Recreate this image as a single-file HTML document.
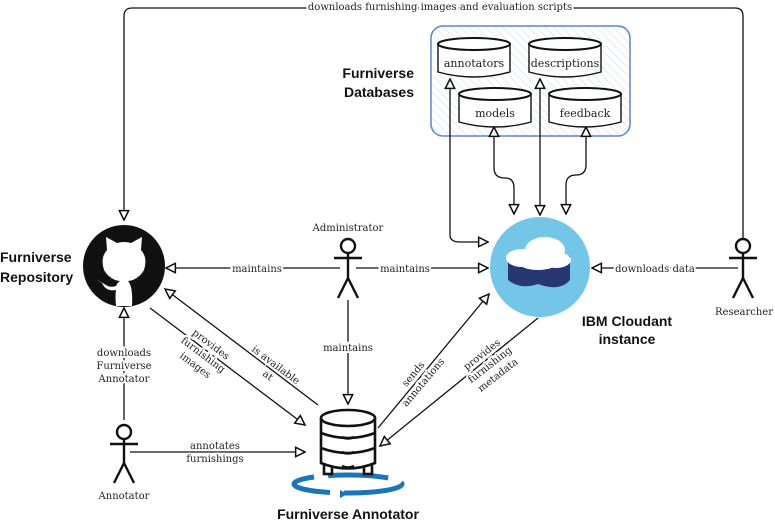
<!DOCTYPE html>
<html><head><meta charset="utf-8"><style>
html,body{margin:0;padding:0;background:#fff}
svg{display:block}
text{font-family:"DejaVu Serif","Liberation Serif",serif;font-size:10px;fill:#222}
.c{font-size:11px}
.b{font-family:"Liberation Sans",sans-serif;font-weight:bold;font-size:14px;fill:#111}
.lbl{paint-order:stroke;stroke:#fff;stroke-width:4px}
</style></head><body>
<svg width="775" height="523" viewBox="0 0 775 523" xmlns="http://www.w3.org/2000/svg">
<defs>
<marker id="a" viewBox="0 0 10 10" refX="9" refY="5" markerWidth="9" markerHeight="9" orient="auto-start-reverse"><path d="M1,1 L9,5 L1,9 Z" fill="#fff" stroke="#111" stroke-width="1.3"/></marker>
<pattern id="h" width="6" height="6" patternUnits="userSpaceOnUse" patternTransform="rotate(-45)"><line x1="0" y1="0" x2="0" y2="6" stroke="#c8d8ee" stroke-width="1"/></pattern>
</defs>
<g fill="none" stroke="#111" stroke-width="1.3">
<path d="M743,238 V16 Q743,8 735,8 H132 Q124,8 124,16 V220" marker-end="url(#a)"/>
</g>
<text x="440" y="10" text-anchor="middle" class="lbl">downloads furnishing images and evaluation scripts</text>
<rect x="431" y="26" width="199" height="110" rx="12" fill="url(#h)" stroke="#5b86c6" stroke-width="1.5"/>
<g stroke="#111" stroke-width="1.4" fill="#fff">
<path d="M438,44 V72 Q474,82 510,72 V44"/><ellipse cx="474" cy="44" rx="36" ry="6" stroke-width="2"/>
<path d="M529,44 V72 Q565,82 601,72 V44"/><ellipse cx="565" cy="44" rx="36" ry="6" stroke-width="2"/>
<path d="M459,94 V122 Q495,132 531,122 V94"/><ellipse cx="495" cy="94" rx="36" ry="6" stroke-width="2"/>
<path d="M549,94 V122 Q585,132 621,122 V94"/><ellipse cx="585" cy="94" rx="36" ry="6" stroke-width="2"/>
</g>
<text x="474" y="67" text-anchor="middle" class="c">annotators</text>
<text x="565" y="67" text-anchor="middle" class="c">descriptions</text>
<text x="495" y="117" text-anchor="middle" class="c">models</text>
<text x="585" y="117" text-anchor="middle" class="c">feedback</text>
<text x="414" y="78" text-anchor="end" class="b">Furniverse</text>
<text x="414" y="97" text-anchor="end" class="b">Databases</text>
<g fill="none" stroke="#111" stroke-width="1.3">
<path d="M450,235 Q450,242 460,242 H488" marker-end="url(#a)"/>
<path d="M450,235 V79" marker-end="url(#a)"/>
<path d="M540,215 V79" marker-start="url(#a)" marker-end="url(#a)"/>
<path d="M494,127 V168 Q494,178 505,178 Q514,178 514,188 V214" marker-start="url(#a)" marker-end="url(#a)"/>
<path d="M586,127 V165 Q586,175 576,175 Q566,175 566,185 V214" marker-start="url(#a)" marker-end="url(#a)"/>
</g>
<circle cx="540" cy="267" r="50" fill="#74c6e8"/>
<path d="M508,258 V280 Q520,290 538,284 Q560,292 570,280 V256 Z" fill="#263772"/>
<g fill="#fff"><ellipse cx="522" cy="258" rx="16" ry="9"/><ellipse cx="545" cy="250" rx="20" ry="13"/><ellipse cx="556" cy="260" rx="15" ry="8"/><ellipse cx="538" cy="262" rx="20" ry="8"/></g>
<text x="627" y="326" text-anchor="middle" class="b">IBM Cloudant</text>
<text x="627" y="344" text-anchor="middle" class="b">instance</text>
<circle cx="124" cy="266" r="41" fill="#111"/>
<path d="M107,250 L106,237 L117,243 Q124,241 131,243 L142,237 L141,250 Q148,258 144,270 Q138,280 128,281 Q133,286 132,306 L116,306 Q115,295 116,290 Q106,292 102,283 L96,279 L106,285 Q110,288 116,286 Q118,282 120,281 Q110,280 104,270 Q100,258 107,250 Z" fill="#fff"/>
<text x="0" y="262" class="b">Furniverse</text>
<text x="0" y="282" class="b">Repository</text>
<g fill="none" stroke="#111" stroke-width="2.4">
<circle cx="348" cy="246" r="7"/><path d="M348,253 V278 M334,258 H362 M348,278 L338,298 M348,278 L358,298"/>
<circle cx="743" cy="246" r="7"/><path d="M743,253 V278 M729,258 H757 M743,278 L733,298 M743,278 L753,298"/>
<circle cx="124" cy="432" r="7"/><path d="M124,439 V463 M110,444 H138 M124,463 L114,483 M124,463 L134,483"/>
</g>
<text x="348" y="231" text-anchor="middle">Administrator</text>
<text x="744" y="315" text-anchor="middle">Researcher</text>
<text x="124" y="499" text-anchor="middle">Annotator</text>
<g fill="none" stroke="#111" stroke-width="1.3">
<path d="M340,268 H166" marker-end="url(#a)"/>
<path d="M356,268 H488" marker-end="url(#a)"/>
<path d="M348,300 V404" marker-end="url(#a)"/>
<path d="M738,268 H592" marker-end="url(#a)"/>
<path d="M124,420 V308" marker-end="url(#a)"/>
<path d="M130,452 H305" marker-end="url(#a)"/>
<path d="M150,308 L305,425" marker-end="url(#a)"/>
<path d="M318,405 L165,289" marker-end="url(#a)"/>
<path d="M378,428 L489,294" marker-end="url(#a)"/>
<path d="M538,318 L380,446" marker-end="url(#a)"/>
</g>
<text x="257" y="272" text-anchor="middle" class="lbl">maintains</text>
<text x="405" y="272" text-anchor="middle" class="lbl">maintains</text>
<text x="348" y="351" text-anchor="middle" class="lbl">maintains</text>
<text x="655" y="272" text-anchor="middle" class="lbl">downloads data</text>
<g text-anchor="middle"><text x="124" y="356" class="lbl">downloads</text><text x="124" y="369" class="lbl">Furniverse</text><text x="124" y="382" class="lbl">Annotator</text></g>
<text x="215" y="449" text-anchor="middle" class="lbl">annotates</text>
<text x="215" y="462" text-anchor="middle" class="lbl">furnishings</text>
<g transform="translate(203,355) rotate(37)" text-anchor="middle"><text y="-10" class="lbl">provides</text><text y="3" class="lbl">furnishing</text><text y="16" class="lbl">images</text></g>
<g transform="translate(272,370) rotate(37)" text-anchor="middle"><text y="-3" class="lbl">is available</text><text y="10" class="lbl">at</text></g>
<g transform="translate(418,378) rotate(-50)" text-anchor="middle"><text y="-3" class="lbl">sends</text><text y="10" class="lbl">annotations</text></g>
<g transform="translate(490,365) rotate(-38)" text-anchor="middle"><text y="-10" class="lbl">provides</text><text y="3" class="lbl">furnishing</text><text y="16" class="lbl">metadata</text></g>
<ellipse cx="348" cy="484" rx="54" ry="9" fill="none" stroke="#1b75bb" stroke-width="5" stroke-dasharray="60 14"/>
<g fill="#fff" stroke="#111" stroke-width="2.6">
<rect x="324" y="462" width="8" height="12"/><rect x="364" y="462" width="8" height="12"/>
<path d="M321,418 V463 Q348,474 375,463 V418"/>
<ellipse cx="348" cy="418" rx="27" ry="8"/>
<path d="M321,433 Q348,443 375,433 M321,448 Q348,458 375,448" fill="none"/>
<path d="M342,437 Q348,440 354,437 M342,452 Q348,455 354,452 M342,466 Q348,469 354,466" fill="none"/>
</g>
<path d="M340,490 L348,494 L340,498 Z" fill="#1b75bb"/>
<text x="348" y="519" text-anchor="middle" class="b">Furniverse Annotator</text>
</svg>
</body></html>
